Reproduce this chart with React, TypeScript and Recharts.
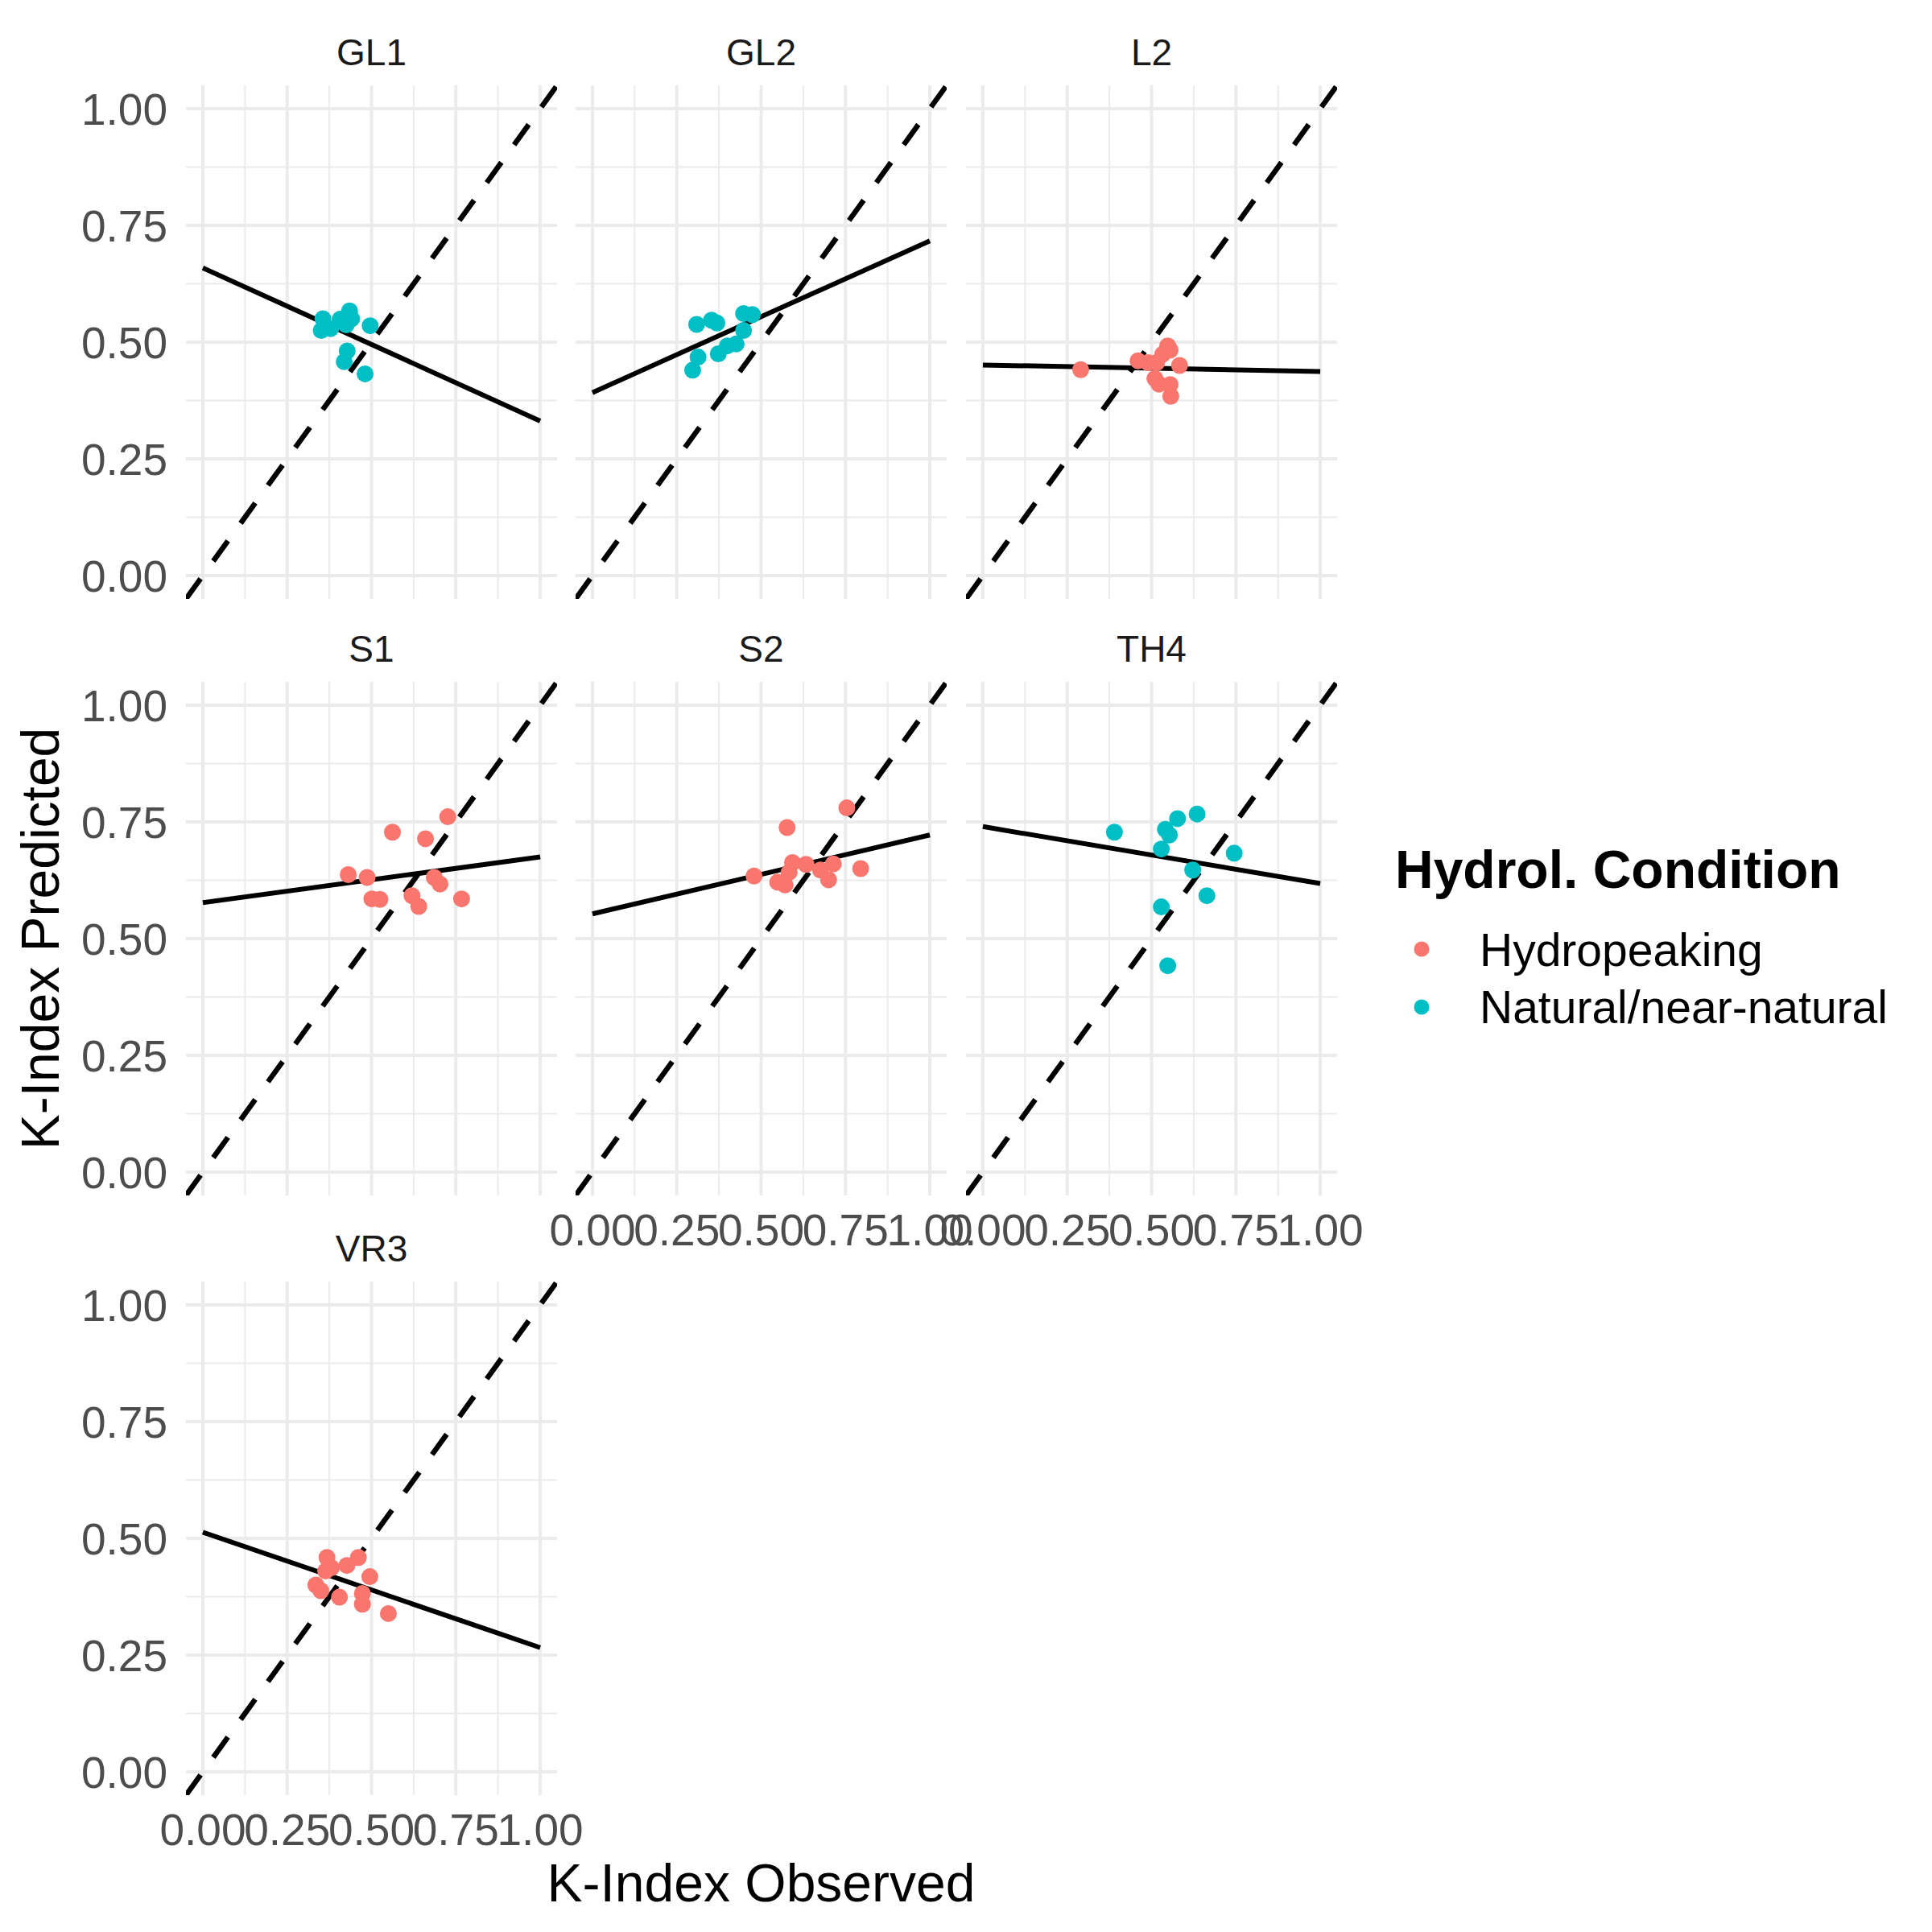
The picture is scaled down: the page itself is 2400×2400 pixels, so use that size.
import React from 'react';
import { ScatterChart, Scatter, XAxis, YAxis, CartesianGrid, ReferenceLine } from 'recharts';

// facet order, as in the reference
const sites = ['GL1', 'GL2', 'L2', 'S1', 'S2', 'TH4', 'VR3'];
const siteCondition = [
  'Natural/near-natural',
  'Natural/near-natural',
  'Hydropeaking',
  'Hydropeaking',
  'Hydropeaking',
  'Natural/near-natural',
  'Hydropeaking',
];

const conditions = ['Hydropeaking', 'Natural/near-natural'];
const conditionColors = ['#F8766D', '#00BFC4'];

const gl1Observed = [0.356, 0.351, 0.379, 0.407, 0.435, 0.441, 0.425, 0.496, 0.428, 0.419, 0.481];
const gl1Predicted = [0.55, 0.525, 0.529, 0.549, 0.567, 0.55, 0.537, 0.535, 0.481, 0.458, 0.432];

const gl2Observed = [0.309, 0.353, 0.369, 0.448, 0.474, 0.448, 0.426, 0.4, 0.373, 0.313, 0.297];
const gl2Predicted = [0.538, 0.547, 0.541, 0.561, 0.559, 0.525, 0.496, 0.492, 0.475, 0.468, 0.44];

const l2Observed = [0.29, 0.46, 0.49, 0.515, 0.533, 0.548, 0.555, 0.583, 0.51, 0.522, 0.555, 0.557];
const l2Predicted = [0.441, 0.46, 0.456, 0.456, 0.474, 0.492, 0.483, 0.45, 0.422, 0.41, 0.409, 0.384];

const s1Observed = [0.431, 0.487, 0.501, 0.525, 0.562, 0.62, 0.64, 0.66, 0.686, 0.703, 0.726, 0.767];
const s1Predicted = [0.637, 0.631, 0.585, 0.584, 0.728, 0.592, 0.569, 0.714, 0.631, 0.617, 0.761, 0.585];

const s2Observed = [0.479, 0.549, 0.571, 0.583, 0.593, 0.577, 0.633, 0.676, 0.7, 0.714, 0.754, 0.795];
const s2Predicted = [0.634, 0.621, 0.615, 0.642, 0.663, 0.738, 0.659, 0.647, 0.626, 0.66, 0.78, 0.65];

const th4Observed = [0.39, 0.541, 0.553, 0.577, 0.635, 0.529, 0.745, 0.622, 0.664, 0.529, 0.548];
const th4Predicted = [0.728, 0.734, 0.722, 0.757, 0.767, 0.692, 0.683, 0.647, 0.592, 0.568, 0.442];

const vr3Observed = [0.368, 0.381, 0.364, 0.427, 0.461, 0.495, 0.335, 0.35, 0.405, 0.473, 0.473, 0.55];
const vr3Predicted = [0.459, 0.437, 0.43, 0.442, 0.459, 0.418, 0.4, 0.388, 0.374, 0.382, 0.359, 0.339];

const observed = [gl1Observed, gl2Observed, l2Observed, s1Observed, s2Observed, th4Observed, vr3Observed];
const predicted = [gl1Predicted, gl2Predicted, l2Predicted, s1Predicted, s2Predicted, th4Predicted, vr3Predicted];

// fitted lm line per site, predicted value at observed = 0 and observed = 1
const fitAtZero = [0.659, 0.392, 0.451, 0.577, 0.553, 0.74, 0.513];
const fitAtOne = [0.331, 0.717, 0.437, 0.675, 0.722, 0.618, 0.266];

const majorTicks = [0, 0.25, 0.5, 0.75, 1];
const minorTicks = [0.125, 0.375, 0.625, 0.875];
const domain: [number, number] = [-0.05, 1.05];

// panel geometry
const PW = 461;
const PH = 638;
const PAD_L = 220;
const PAD_R = 70;
const PAD_T = 10;
const PAD_B = 110;
const colLeft = [231, 715, 1200];
const rowTop = [106, 847, 1592];

const FONT = '"Liberation Sans", Arial, Helvetica, sans-serif';
const tickStyle = { fill: '#4D4D4D', fontSize: 55, fontFamily: FONT };
const fmt = (v: number) => v.toFixed(2);

const Panel = ({ index }: { index: number }) => {
  const row = Math.floor(index / 3);
  const col = index % 3;
  const showY = col === 0;
  const showX = index + 3 >= sites.length;
  const data = observed[index].map((x, k) => ({ x, y: predicted[index][k] }));
  const color = conditionColors[conditions.indexOf(siteCondition[index])];

  return (
    <div style={{ position: 'absolute', left: colLeft[col] - PAD_L, top: rowTop[row] - PAD_T }}>
      <ScatterChart
        width={PAD_L + PW + PAD_R}
        height={PAD_T + PH + PAD_B}
        margin={{ top: PAD_T, right: PAD_R, bottom: showX ? 0 : PAD_B, left: showY ? 0 : PAD_L }}
      >
        <CartesianGrid
          stroke="#EBEBEB"
          strokeWidth={2}
          horizontalValues={minorTicks}
          verticalValues={minorTicks}
        />
        <CartesianGrid
          stroke="#EBEBEB"
          strokeWidth={4}
          horizontalValues={majorTicks}
          verticalValues={majorTicks}
        />
        <XAxis
          type="number"
          dataKey="x"
          domain={domain}
          ticks={majorTicks}
          interval={0}
          hide={!showX}
          height={PAD_B}
          axisLine={false}
          tickLine={false}
          tickSize={0}
          tickMargin={23}
          tickFormatter={fmt}
          tick={tickStyle}
          allowDataOverflow
        />
        <YAxis
          type="number"
          dataKey="y"
          domain={domain}
          ticks={majorTicks}
          interval={0}
          hide={!showY}
          width={PAD_L}
          axisLine={false}
          tickLine={false}
          tickSize={0}
          tickMargin={23}
          tickFormatter={fmt}
          tick={tickStyle}
          allowDataOverflow
        />
        <Scatter
          data={data}
          fill={color}
          isAnimationActive={false}
          shape={(p: any) => <circle cx={p.cx} cy={p.cy} r={10.5} fill={color} />}
        />
        <ReferenceLine
          segment={[{ x: domain[0], y: domain[0] }, { x: domain[1], y: domain[1] }]}
          stroke="#000"
          strokeWidth={6.5}
          strokeDasharray="31 27"
          ifOverflow="hidden"
        />
        <ReferenceLine
          segment={[{ x: 0, y: fitAtZero[index] }, { x: 1, y: fitAtOne[index] }]}
          stroke="#000"
          strokeWidth={6}
          ifOverflow="hidden"
        />
      </ScatterChart>
    </div>
  );
};

const App = () => {
  return (
    <div style={{ position: 'absolute', left: 0, top: 0, width: 2400, height: 2400, background: '#fff', fontFamily: FONT }}>
      {sites.map((s, i) => (
        <Panel key={s} index={i} />
      ))}
      <svg width={2400} height={2400} style={{ position: 'absolute', left: 0, top: 0, pointerEvents: 'none' }}>
        {sites.map((s, i) => (
          <text
            key={s}
            x={colLeft[i % 3] + PW / 2}
            y={rowTop[Math.floor(i / 3)] - 25}
            textAnchor="middle"
            fontSize={46}
            fill="#1A1A1A"
            fontFamily={FONT}
          >
            {s}
          </text>
        ))}
        <text
          x={73}
          y={1166}
          transform="rotate(-90 73 1166)"
          textAnchor="middle"
          fontSize={66}
          fill="#000"
          fontFamily={FONT}
        >
          K-Index Predicted
        </text>
        <text x={colLeft[1] + PW / 2} y={2362} textAnchor="middle" fontSize={66} fill="#000" fontFamily={FONT}>
          K-Index Observed
        </text>
        <text x={1733} y={1103} fontSize={66} fontWeight="bold" fill="#000" fontFamily={FONT}>
          Hydrol. Condition
        </text>
        {conditions.map((c, k) => (
          <g key={c}>
            <circle cx={1766} cy={1179 + k * 72} r={9.5} fill={conditionColors[k]} />
            <text x={1838} y={1200 + k * 71} fontSize={57} fill="#000" fontFamily={FONT}>
              {c}
            </text>
          </g>
        ))}
      </svg>
    </div>
  );
};

export default App;
